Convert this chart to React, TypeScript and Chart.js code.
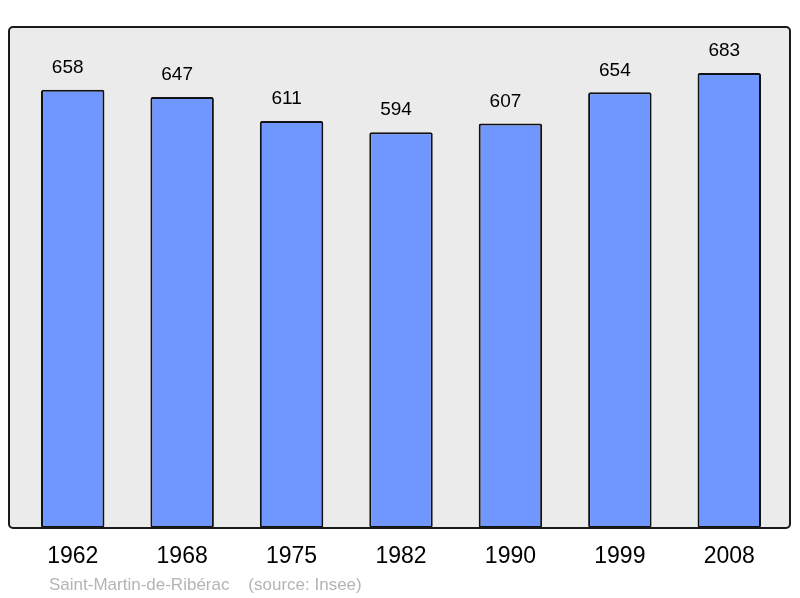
import React, { useEffect, useRef } from "react";
import { Chart, registerables } from "chart.js";

Chart.register(...registerables);

const years = ["1962", "1968", "1975", "1982", "1990", "1999", "2008"];
const population = [658, 647, 611, 594, 607, 654, 683];
const footer = "Saint-Martin-de-Ribérac    (source: Insee)";

const FONT = "'Liberation Sans', Arial, sans-serif";

const decor = {
  id: "decor",
  beforeDraw(chart: any) {
    const ctx = chart.ctx;
    const a = chart.chartArea;
    ctx.save();
    ctx.fillStyle = "#ffffff";
    ctx.fillRect(0, 0, chart.width, chart.height);
    ctx.beginPath();
    ctx.roundRect(9, a.top, 781, a.bottom - a.top, 4);
    ctx.fillStyle = "#ebebeb";
    ctx.fill();
    ctx.restore();
  },
  afterDatasetsDraw(chart: any) {
    const ctx = chart.ctx;
    const a = chart.chartArea;
    const xs = chart.scales.x;
    const ys = chart.scales.y;
    ctx.save();
    ctx.beginPath();
    ctx.roundRect(9, a.top, 781, a.bottom - a.top, 4);
    ctx.lineWidth = 2;
    ctx.strokeStyle = "#1a1a1a";
    ctx.stroke();

    ctx.fillStyle = "#000";
    ctx.textAlign = "center";
    ctx.textBaseline = "middle";
    ctx.font = `19px ${FONT}`;
    population.forEach((v, i) => {
      ctx.fillText(String(v), xs.getPixelForValue(i) - 5, ys.getPixelForValue(v) - 22);
    });
    ctx.font = `23px ${FONT}`;
    years.forEach((y, i) => {
      ctx.fillText(y, xs.getPixelForValue(i), a.bottom + 29);
    });
    ctx.font = `17px ${FONT}`;
    ctx.fillStyle = "#b4b4b4";
    ctx.textAlign = "left";
    ctx.fillText(footer, 49, a.bottom + 57);
    ctx.restore();
  },
};

export default function App() {
  const ref = useRef<HTMLCanvasElement>(null);
  useEffect(() => {
    document.body.style.margin = "0";
    const chart = new Chart(ref.current!, {
      type: "bar",
      data: {
        labels: years,
        datasets: [
          {
            data: population,
            backgroundColor: "#7097ff",
            borderColor: "#111",
            borderWidth: 2,
            borderRadius: 2,
            borderSkipped: false,
            barPercentage: 0.58,
            categoryPercentage: 1,
          },
        ],
      },
      options: {
        responsive: false,
        animation: false,
        layout: { padding: { left: 18, right: 16, top: 27, bottom: 70 } },
        plugins: { legend: { display: false }, tooltip: { enabled: false } },
        scales: {
          x: { display: false },
          y: { display: false, min: 0, max: 752 },
        },
      },
      plugins: [decor],
    });
    return () => chart.destroy();
  }, []);
  return (
    <div style={{ width: 800, height: 598 }}>
      <canvas ref={ref} width={800} height={598} />
    </div>
  );
}
